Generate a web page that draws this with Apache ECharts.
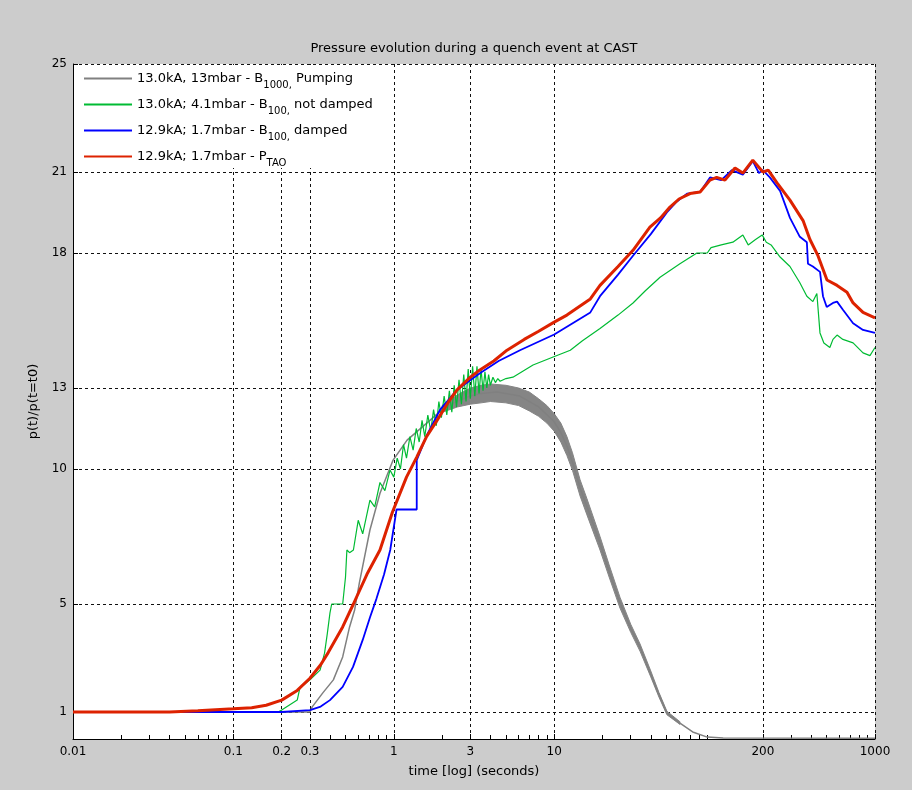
<!DOCTYPE html>
<html>
<head>
<meta charset="UTF-8">
<script src="https://cdn.jsdelivr.net/npm/echarts@6/dist/echarts.min.js"></script>
<title>Pressure evolution during a quench event at CAST</title>
<style>
  html, body { margin: 0; padding: 0; background: #cccccc; }
  #main { width: 912px; height: 790px; }
</style>
</head>
<body>
<div id="main"></div>
<script type="text/javascript">
// [time (s), p(t)/p(t=t0)]
var pumping = [
  [0.01, 1.0], [0.3, 1.0], [0.31, 1.19], [0.36, 1.7], [0.42, 2.19], [0.48, 3.04], [0.53, 4.15],
  [0.57, 4.78], [0.61, 5.78], [0.71, 7.74], [0.82, 9.1], [0.99, 10.33], [1.21, 11.07], [1.68, 11.8],
  [2.0, 12.2], [2.35, 12.45], [2.98, 12.7], [3.5, 12.8], [4.4, 12.85], [6.1, 12.7], [8.0, 12.3],
  [10, 11.75], [11, 11.35], [12, 10.85], [13, 10.25], [14.5, 9.3], [16, 8.6], [19.3, 7.25], [22, 6.2],
  [25.7, 5.05], [30, 4.1], [34.3, 3.4], [40, 2.4], [43.8, 1.81], [50.4, 0.96], [60.8, 0.59],
  [73, 0.26], [90, 0.07], [113, 0.04], [1000, 0.03]
];
// oscillation envelope of the pumping curve: [time, low, high]
var pumpingBand = [
  [2.0, 12.1, 12.35], [2.5, 12.3, 12.75], [3.0, 12.4, 13.0], [3.5, 12.45, 13.1], [4.0, 12.5, 13.15],
  [5.0, 12.45, 13.1], [6.0, 12.35, 13.0], [7.0, 12.15, 12.85], [8.0, 11.95, 12.6], [9.0, 11.7, 12.35],
  [10, 11.4, 12.05], [11, 11.0, 11.7], [12, 10.5, 11.2], [13, 9.95, 10.6], [14.5, 9.0, 9.6],
  [16, 8.3, 8.9], [19.3, 7.0, 7.5], [22, 6.0, 6.45], [25.7, 4.85, 5.25], [30, 3.95, 4.25],
  [34.3, 3.25, 3.52], [40, 2.3, 2.52], [45, 1.55, 1.72], [50.4, 0.9, 1.03], [60.8, 0.54, 0.64]
];
var notDamped = [
  [0.01, 1.0], [0.19, 1.0], [0.2, 1.07], [0.25, 1.44], [0.26, 1.9], [0.3, 2.19], [0.347, 2.55],
  [0.37, 3.18], [0.385, 3.9], [0.4, 4.67], [0.41, 5.0], [0.48, 5.0], [0.5, 6.0], [0.51, 7.0],
  [0.53, 6.9], [0.56, 7.0], [0.6, 8.1], [0.64, 7.6], [0.71, 8.85], [0.76, 8.6], [0.82, 9.5],
  [0.88, 9.2], [0.947, 9.96], [1.0, 9.7], [1.05, 10.4], [1.1, 10.0], [1.15, 10.9], [1.2, 10.4],
  [1.26, 11.2], [1.32, 10.7], [1.38, 11.5], [1.44, 11.0], [1.5, 11.8], [1.56, 11.2], [1.63, 12.0],
  [1.7, 11.4], [1.77, 12.2], [1.84, 11.6], [1.91, 12.5], [1.98, 11.9], [2.06, 12.7], [2.14, 12.0],
  [2.22, 12.9], [2.3, 12.1], [2.38, 13.1], [2.46, 12.3], [2.55, 13.3], [2.64, 12.4], [2.73, 13.5],
  [2.82, 12.5], [2.91, 13.7], [3.0, 12.6], [3.1, 13.8], [3.2, 12.7], [3.3, 13.8], [3.4, 12.8],
  [3.5, 13.7], [3.6, 12.9], [3.7, 13.6], [3.8, 13.0], [3.9, 13.5], [4.0, 13.1], [4.15, 13.4],
  [4.3, 13.2], [4.45, 13.35], [4.6, 13.25], [5.0, 13.35], [5.53, 13.4], [7.38, 13.85], [9.85, 14.15],
  [12.6, 14.4], [15, 14.75], [19.3, 15.2], [25, 15.7], [31, 16.15], [37, 16.6], [45.7, 17.1],
  [60.8, 17.6], [77.6, 18.0], [90, 18.0], [95, 18.2], [110, 18.3], [130, 18.4], [150, 18.67],
  [162, 18.3], [180, 18.5], [198, 18.67], [210, 18.4], [225, 18.3], [256, 17.85], [295, 17.5],
  [340, 16.9], [376, 16.4], [410, 16.2], [434, 16.5], [454, 15.04], [480, 14.67], [523, 14.5],
  [547, 14.8], [580, 14.96], [631, 14.8], [730, 14.67], [842, 14.3], [930, 14.2], [1000, 14.5]
];
var damped = [
  [0.01, 1.0], [0.2, 1.0], [0.3, 1.07], [0.35, 1.2], [0.4, 1.44], [0.48, 1.93], [0.557, 2.67],
  [0.64, 3.67], [0.71, 4.5], [0.78, 5.2], [0.87, 6.1], [0.95, 7.0], [1.04, 8.5], [1.39, 8.5],
  [1.39, 10.33], [1.61, 11.26], [1.94, 12.19], [2.48, 12.93], [3.44, 13.55], [4.5, 14.0],
  [6.12, 14.4], [10, 14.98], [16.8, 15.8], [19.3, 16.4], [25, 17.2], [31, 17.9], [40, 18.7],
  [50.4, 19.5], [58, 19.9], [67.3, 20.2], [81.2, 20.26], [93.6, 20.8], [110, 20.7], [128, 21.07],
  [150, 20.9], [173, 21.4], [189, 20.96], [200, 21.07], [221, 20.8], [256, 20.3], [295, 19.3],
  [340, 18.6], [376, 18.4], [382, 17.6], [410, 17.5], [454, 17.3], [474, 16.4], [500, 16.0],
  [547, 16.15], [580, 16.2], [631, 15.9], [730, 15.4], [842, 15.15], [1000, 15.04]
];
var ptao = [
  [0.01, 1.0], [0.04, 1.0], [0.06, 1.05], [0.1, 1.12], [0.13, 1.16], [0.16, 1.25], [0.2, 1.44],
  [0.25, 1.8], [0.3, 2.25], [0.35, 2.75], [0.39, 3.2], [0.48, 4.15], [0.56, 5.0], [0.68, 6.1],
  [0.82, 7.0], [0.98, 8.4], [1.2, 9.7], [1.39, 10.44], [1.6, 11.2], [1.86, 11.8], [2.2, 12.5],
  [2.48, 12.93], [3.0, 13.4], [3.44, 13.67], [4.2, 14.0], [5.08, 14.4], [6.5, 14.8], [8, 15.1],
  [10, 15.44], [12, 15.7], [16.8, 16.3], [19.3, 16.8], [25, 17.5], [31, 18.1], [39.5, 18.96],
  [46, 19.3], [52.7, 19.7], [60, 20.0], [70.3, 20.2], [81.2, 20.26], [93.6, 20.7], [103, 20.8],
  [116, 20.7], [134, 21.15], [150, 20.96], [173, 21.44], [200, 21.0], [216, 21.07], [245, 20.6],
  [295, 19.96], [356, 19.2], [393, 18.5], [441, 17.9], [502, 17.0], [580, 16.8], [669, 16.55],
  [730, 16.15], [842, 15.8], [1000, 15.6]
];

var xTicks = [0.01, 0.1, 0.2, 0.3, 1, 3, 10, 200, 1000];
var xMinorTicks = [
  0.02, 0.03, 0.04, 0.05, 0.06, 0.07, 0.08, 0.09,
  0.4, 0.5, 0.6, 0.7, 0.8, 0.9,
  2, 4, 5, 6, 7, 8, 9,
  20, 30, 40, 50, 60, 70, 80, 90,
  300, 400, 500, 600, 700, 800, 900
];
var yTicks = [1, 5, 10, 13, 18, 21, 25];

var seriesNames = ['pumping', 'notDamped', 'damped', 'ptao'];
var legendLabels = [
  '13.0kA, 13mbar - B{sub|1000,} Pumping',
  '13.0kA; 4.1mbar - B{sub|100,} not damped',
  '12.9kA; 1.7mbar - B{sub|100,} damped',
  '12.9kA; 1.7mbar - P{sub|TAO}'
];

var font = '"DejaVu Sans", "Liberation Sans", Arial, sans-serif';
var dotted = { color: '#111', width: 1, type: [3, 3] };

var myChart = echarts.init(document.getElementById('main'));
var option = {
  backgroundColor: '#cccccc',
  animation: false,
  textStyle: { fontFamily: font },
  title: {
    text: 'Pressure evolution during a quench event at CAST',
    left: 469,
    top: 37,
    textAlign: 'center',
    textStyle: { fontFamily: font, fontSize: 13, fontWeight: 'normal', color: '#000' }
  },
  legend: {
    data: seriesNames,
    orient: 'vertical',
    left: 74,
    top: 65,
    icon: 'rect',
    itemWidth: 48,
    itemHeight: 2,
    itemGap: 8,
    backgroundColor: '#fff',
    padding: [7, 12, 0, 10],
    selectedMode: false,
    textStyle: {
      fontFamily: font, fontSize: 13, color: '#000',
      rich: { sub: { fontFamily: font, fontSize: 10, color: '#000', padding: [13, 0, 0, 0] } }
    },
    formatter: function (name) { return legendLabels[seriesNames.indexOf(name)]; }
  },
  grid: { left: 73, right: 37, top: 64, bottom: 51, show: true, backgroundColor: '#fff', borderWidth: 0 },
  xAxis: [{
    type: 'log',
    logBase: 10,
    min: 0.01,
    max: 1000,
    name: 'time [log] (seconds)',
    nameLocation: 'middle',
    nameGap: 26,
    nameTextStyle: { fontFamily: font, fontSize: 13, color: '#000' },
    axisLine: { lineStyle: { color: '#000', width: 1 } },
    axisTick: { inside: true, length: 5, customValues: xTicks, lineStyle: { color: '#000' } },
    axisLabel: {
      customValues: xTicks, margin: 7, color: '#000', fontSize: 12, fontFamily: font,
      formatter: function (v) { return String(+v.toPrecision(6)); }
    },
    splitLine: { show: true, lineStyle: dotted }
  }, {
    type: 'log',
    logBase: 10,
    min: 0.01,
    max: 1000,
    position: 'bottom',
    axisLine: { show: false },
    axisTick: { inside: true, length: 4, customValues: xMinorTicks, lineStyle: { color: '#000' } },
    axisLabel: { show: false },
    splitLine: { show: false }
  }],
  yAxis: {
    type: 'value',
    min: 0,
    max: 25,
    name: 'p(t)/p(t=t0)',
    nameLocation: 'middle',
    nameGap: 33,
    nameTextStyle: { fontFamily: font, fontSize: 13, color: '#000' },
    axisLine: { show: true, lineStyle: { color: '#000', width: 1 } },
    axisTick: { show: true, inside: true, length: 5, customValues: yTicks, lineStyle: { color: '#000' } },
    axisLabel: { customValues: yTicks, margin: 6, color: '#000', fontSize: 12, fontFamily: font },
    splitLine: { show: true, lineStyle: dotted }
  },
  series: [{
    name: 'pumping',
    type: 'line',
    data: pumping,
    symbol: 'none',
    lineStyle: { color: '#808080', width: 1.5 },
    itemStyle: { color: '#808080' }
  }, {
    // filled envelope of the oscillating part of the pumping curve
    name: 'pumpingBand',
    type: 'custom',
    data: pumpingBand,
    encode: { x: 0, y: 1 },
    silent: true,
    renderItem: function (params, api) {
      if (params.dataIndex !== 0) return;
      var upper = pumpingBand.map(function (d) { return api.coord([d[0], d[2]]); });
      var lower = pumpingBand.slice().reverse().map(function (d) { return api.coord([d[0], d[1]]); });
      return {
        type: 'polygon',
        shape: { points: upper.concat(lower) },
        style: { fill: '#858585', stroke: '#858585', lineWidth: 1 }
      };
    }
  }, {
    name: 'notDamped',
    type: 'line',
    data: notDamped,
    symbol: 'none',
    lineStyle: { color: '#00bb33', width: 1.2 },
    itemStyle: { color: '#00bb33' }
  }, {
    name: 'damped',
    type: 'line',
    data: damped,
    symbol: 'none',
    lineStyle: { color: '#0000ff', width: 1.8 },
    itemStyle: { color: '#0000ff' }
  }, {
    name: 'ptao',
    type: 'line',
    data: ptao,
    symbol: 'none',
    lineStyle: { color: '#dd2200', width: 3 },
    itemStyle: { color: '#dd2200' }
  }]
};
myChart.setOption(option);
</script>
</body>
</html>
